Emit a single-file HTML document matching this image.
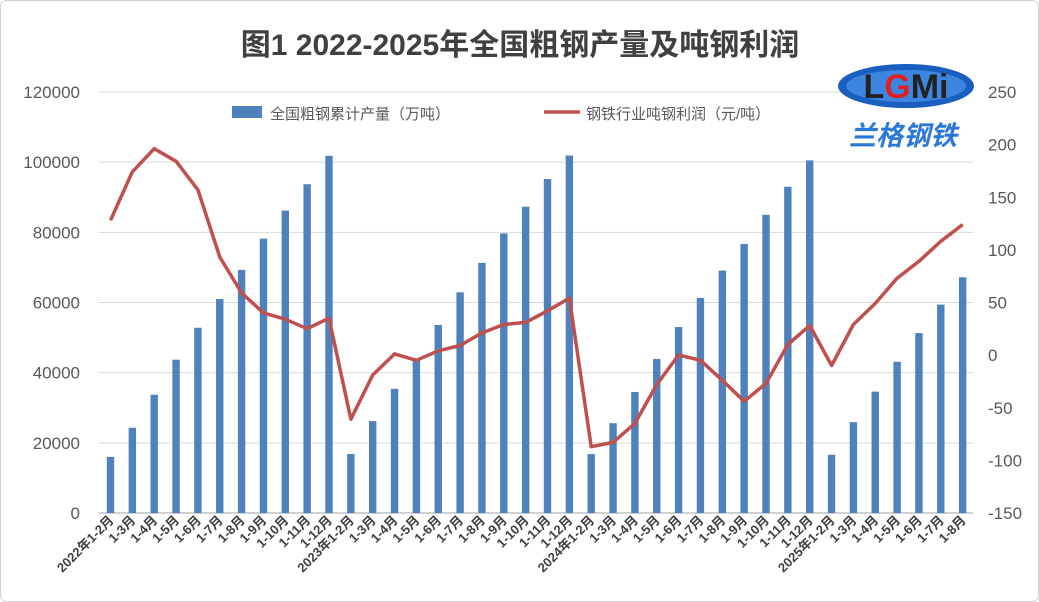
<!DOCTYPE html>
<html><head><meta charset="utf-8"><style>
body{margin:0;background:#fff}
svg{display:block;font-family:"Liberation Sans","Noto Sans CJK SC",sans-serif}
</style></head><body>
<svg id="s" width="1039" height="602" xmlns="http://www.w3.org/2000/svg">
<rect x="0.5" y="0.5" width="1038" height="601" rx="6" fill="#fff" stroke="#d0d0d0"/>
<text x="520" y="55" text-anchor="middle" font-size="30" font-weight="bold" fill="#404040">图1 2022-2025年全国粗钢产量及吨钢利润</text>
<g id="grid"></g>
<g id="bars" fill="#4f81bd"></g>
<polyline id="ln" fill="none" stroke="#c0504d" stroke-width="3.5" stroke-linejoin="round"/>
<g id="lab" font-size="17" fill="#595959"></g>
<g id="xl" font-size="13" font-weight="bold" fill="#404040"></g>
<rect x="232" y="106" width="30" height="12" fill="#4f81bd"/>
<text x="270" y="119" font-size="15" fill="#595959">全国粗钢累计产量（万吨）</text>
<line x1="544" y1="112" x2="580" y2="112" stroke="#c0504d" stroke-width="3.5"/>
<text x="586" y="119" font-size="15" fill="#595959">钢铁行业吨钢利润（元/吨）</text>
<ellipse cx="906" cy="86" rx="68" ry="22" fill="#1a5fc0"/>
<ellipse cx="906" cy="86" rx="60" ry="16" fill="#3d86e0"/>
<text x="906" y="98" text-anchor="middle" font-size="34" font-weight="bold" fill="#222" font-family="Liberation Sans,sans-serif">L<tspan fill="#e02020">G</tspan>Mi</text>
<text x="903" y="145" text-anchor="middle" font-size="27" font-weight="bold" fill="#2a78d8" font-style="italic">兰格钢铁</text>
</svg>
<script>
var NS="http://www.w3.org/2000/svg";
function el(t,a,p){var e=document.createElementNS(NS,t);for(var k in a)e.setAttribute(k,a[k]);if(p)document.getElementById(p).appendChild(e);return e;}
var y0=513,ppu=421/120000;
for(var v=0;v<=120000;v+=20000){var y=y0-v*ppu;
 if(v>0)el("line",{x1:99,x2:973,y1:y,y2:y,stroke:"#d9d9d9","stroke-width":1},"grid");
 var t=el("text",{x:80,y:y+6,"text-anchor":"end"},"lab");t.textContent=v;}
el("line",{x1:99,x2:973,y1:y0,y2:y0,stroke:"#d0d0d0","stroke-width":2},"grid");
for(var r=250;r>=-150;r-=50){var y=92+(250-r)*421/400;var t=el("text",{x:988,y:y+6},"lab");t.textContent=r;}
var bars=[16000,24300,33700,43700,52800,61000,69300,78200,86200,93700,101800,
16800,26200,35400,44000,53600,62900,71300,79700,87300,95200,101900,
16800,25600,34500,43900,53000,61300,69100,76700,85000,93000,100500,
16600,25900,34600,43100,51300,59400,67200];
var line=[128,174,196,184,157,93,59,40,34,25,35,-61,-19,1,-5,4,9,21,29,31,42,54,-87,-83,-65,-28,0,-5,-24,-44,-27,10,28,-10,29,49,73,89,108,124];
var lbl=[];var yrs=["2022","2023","2024","2025"],cnt=[11,11,11,7];
yrs.forEach(function(yr,i){for(var m=0;m<cnt[i];m++)lbl.push(m==0?yr+"年1-2月":"1-"+(m+2)+"月");});
var pts=[];
for(var i=0;i<40;i++){var x=110.5+i*21.85;var h=bars[i]*ppu;
 el("rect",{x:x-3.7,y:y0-h,width:7.4,height:h},"bars");
 pts.push(x.toFixed(1)+","+(355-line[i]*1.0525).toFixed(1));
 var t=el("text",{x:x+4,y:521,"text-anchor":"end",transform:"rotate(-45 "+(x+4)+" 521)"},"xl");t.textContent=lbl[i];}
document.getElementById("ln").setAttribute("points",pts.join(" "));
</script>
</body></html>
